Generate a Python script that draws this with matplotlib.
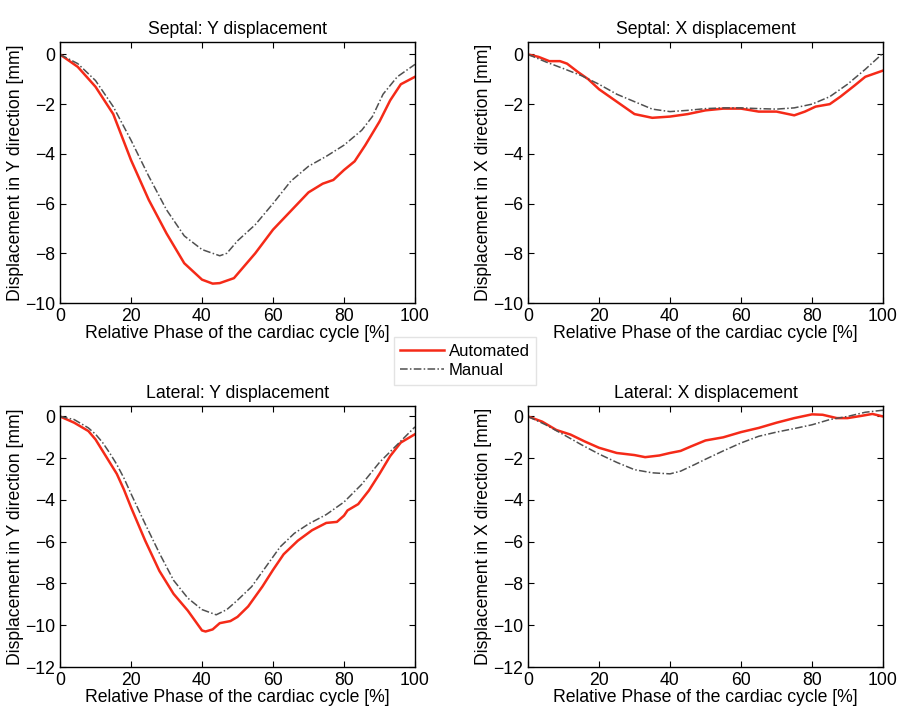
import matplotlib
matplotlib.use('Agg')
import matplotlib.pyplot as plt

plt.rcParams['font.family'] = ['Liberation Sans', 'DejaVu Sans']

# Septal Y
sy_x_auto = [0, 5, 10, 15, 20, 25, 30, 35, 40, 43, 45, 49, 52, 55, 60, 63, 67, 70, 74, 77, 80, 83, 86, 90, 93, 96, 100]
sy_auto = [0, -0.5, -1.3, -2.4, -4.25, -5.85, -7.2, -8.4, -9.06, -9.22, -9.2, -9.0, -8.5, -8.0, -7.05, -6.6, -6.0,
           -5.55, -5.2, -5.05, -4.65, -4.3, -3.65, -2.7, -1.85, -1.2, -0.9]
sy_x_man = [0, 5, 10, 15, 20, 25, 30, 35, 40, 45, 47, 50, 55, 60, 65, 70, 75, 80, 85, 88, 91, 95, 100]
sy_man = [0, -0.37, -1.05, -2.1, -3.45, -4.9, -6.25, -7.3, -7.85, -8.1, -8.0, -7.5, -6.85, -6.0, -5.1, -4.5, -4.1,
          -3.65, -3.05, -2.5, -1.6, -0.9, -0.4]

# Septal X
sx_x_auto = [0, 3, 6, 9, 11, 14, 17, 20, 25, 30, 35, 40, 45, 50, 55, 60, 65, 70, 75, 78, 81, 85, 88, 92, 95, 100]
sx_auto = [0, -0.1, -0.27, -0.27, -0.37, -0.7, -1.0, -1.4, -1.9, -2.4, -2.55, -2.5, -2.4, -2.25, -2.18, -2.18, -2.3,
           -2.3, -2.45, -2.3, -2.1, -2.0, -1.7, -1.25, -0.9, -0.65]
sx_x_man = [0, 5, 10, 15, 20, 25, 30, 35, 40, 45, 50, 55, 60, 65, 70, 75, 80, 85, 90, 95, 100]
sx_man = [0, -0.3, -0.57, -0.85, -1.2, -1.6, -1.9, -2.2, -2.3, -2.25, -2.18, -2.15, -2.15, -2.18, -2.2, -2.15, -2.0,
          -1.7, -1.2, -0.6, 0.05]

# Lateral Y
ly_x_auto = [0, 4, 8, 10, 12, 14, 16, 18, 20, 24, 28, 32, 36, 40, 41, 43, 45, 48, 50, 53, 57, 60, 63, 67, 71, 75, 78,
             80, 81, 84, 87, 90, 93, 96, 100]
ly_auto = [0, -0.3, -0.7, -1.1, -1.65, -2.2, -2.75, -3.5, -4.35, -5.95, -7.4, -8.5, -9.3, -10.25, -10.3, -10.2, -9.9,
           -9.8, -9.6, -9.1, -8.15, -7.35, -6.6, -5.95, -5.45, -5.1, -5.05, -4.75, -4.5, -4.2, -3.55, -2.75, -1.9,
           -1.25, -0.85]
ly_x_man = [0, 4, 8, 10, 12, 14, 16, 18, 20, 24, 28, 32, 36, 40, 44, 47, 50, 54, 58, 62, 66, 70, 75, 80, 85, 90, 95,
            100]
ly_man = [0, -0.15, -0.55, -0.85, -1.25, -1.75, -2.3, -2.95, -3.7, -5.15, -6.55, -7.85, -8.7, -9.25, -9.5, -9.25,
          -8.8, -8.15, -7.2, -6.25, -5.6, -5.15, -4.7, -4.1, -3.25, -2.2, -1.35, -0.5]

# Lateral X
lx_x_auto = [0, 4, 8, 12, 16, 20, 25, 30, 33, 37, 40, 43, 46, 50, 55, 60, 65, 70, 75, 80, 83, 87, 90, 94, 97, 100]
lx_auto = [0, -0.25, -0.65, -0.87, -1.2, -1.5, -1.75, -1.85, -1.95, -1.87, -1.75, -1.65, -1.43, -1.15, -1.0, -0.75,
           -0.55, -0.3, -0.08, 0.1, 0.08, -0.08, -0.08, 0.03, 0.12, 0.0]
lx_x_man = [0, 5, 10, 15, 20, 25, 30, 35, 40, 43, 47, 50, 55, 60, 65, 70, 75, 80, 85, 90, 95, 100]
lx_man = [0, -0.4, -0.87, -1.35, -1.8, -2.2, -2.55, -2.7, -2.75, -2.62, -2.3, -2.05, -1.65, -1.27, -0.95, -0.75,
          -0.58, -0.4, -0.15, 0.0, 0.2, 0.3]

titles = ['Septal: Y displacement', 'Septal: X displacement', 'Lateral: Y displacement', 'Lateral: X displacement']
ylabels = ['Displacement in Y direction [mm]', 'Displacement in X direction [mm]',
           'Displacement in Y direction [mm]', 'Displacement in X direction [mm]']
xlabel = 'Relative Phase of the cardiac cycle [%]'

panels = [
    (sy_x_auto, sy_auto, sy_x_man, sy_man, -10, list(range(-10, 1, 2))),
    (sx_x_auto, sx_auto, sx_x_man, sx_man, -10, list(range(-10, 1, 2))),
    (ly_x_auto, ly_auto, ly_x_man, ly_man, -12, list(range(-12, 1, 2))),
    (lx_x_auto, lx_auto, lx_x_man, lx_man, -12, list(range(-12, 1, 2))),
]

fig = plt.figure(figsize=(8.98, 7.09), dpi=100)
W, H = 898, 709
boxes = [(60, 42), (528, 42), (60, 406), (528, 406)]
aw, ah = 355, 261
fs = 12.7

red = '#f52a18'
gray = '#505050'

for i, (xa, ya, xm, ym, ymin, yt) in enumerate(panels):
    l, t = boxes[i]
    ax = fig.add_axes([l / W, 1 - (t + ah) / H, aw / W, ah / H])
    la, = ax.plot(xa, ya, color=red, lw=1.8, label='Automated')
    lm, = ax.plot(xm, ym, color=gray, lw=1.1, ls=(0, (5, 1.5, 1, 1.5)), label='Manual')
    ax.set_xlim(0, 100)
    ax.set_ylim(ymin, 0.5)
    ax.set_xticks([0, 20, 40, 60, 80, 100])
    ax.set_yticks(yt)
    ax.tick_params(direction='in', top=True, right=True, labelsize=fs, length=4, width=0.8)
    ax.set_title(titles[i], fontsize=fs, pad=6)
    ax.set_ylabel(ylabels[i], fontsize=fs, labelpad=1)
    ax.set_xlabel(xlabel, fontsize=fs, labelpad=0)
    for s in ax.spines.values():
        s.set_linewidth(1.0)

fig.legend([la, lm], ['Automated', 'Manual'], loc='center', bbox_to_anchor=(0.518, 0.491), fontsize=12,
           frameon=True, fancybox=False, edgecolor='#dddddd', handlelength=2.6, borderpad=0.4,
           labelspacing=0.25, handletextpad=0.3)

fig.savefig('out.png', dpi=100)
